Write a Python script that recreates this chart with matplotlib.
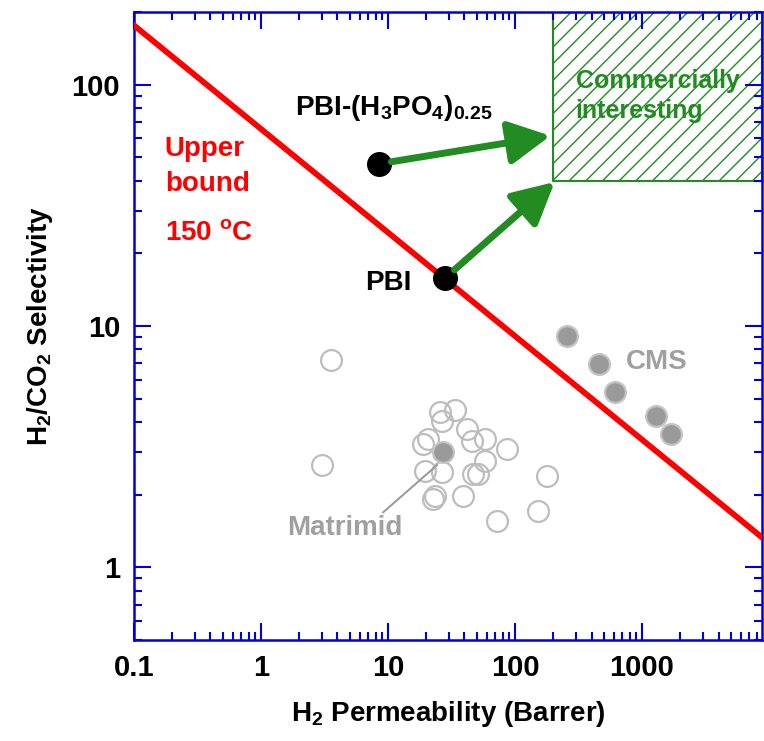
import numpy as np
import matplotlib
matplotlib.use('Agg')
from matplotlib import pyplot as plt
from matplotlib.ticker import LogLocator, FixedLocator, FixedFormatter, NullFormatter

plt.rcParams['font.family'] = ['Liberation Sans', 'DejaVu Sans']
plt.rcParams['font.weight'] = 'bold'
plt.rcParams['mathtext.fontset'] = 'custom'
plt.rcParams['mathtext.rm'] = 'Liberation Sans:bold'
plt.rcParams['mathtext.it'] = 'Liberation Sans:bold'
plt.rcParams['mathtext.bf'] = 'Liberation Sans:bold'
plt.rcParams['mathtext.default'] = 'rm'
plt.rcParams['hatch.linewidth'] = 1.0

# upper bound at 150 C (end points)
upper_x = [0.1, 8800]
upper_y = [176, 1.33]

# Matrimid literature points (open)
matrimid_x = [3.56, 3.02, 25.6, 33.7, 26.6, 41.9, 45.8, 58, 18.9, 20.7, 86.5, 58,
              19.6, 26.6, 46.7, 51, 23.4, 22.6, 39, 72, 179, 152]
matrimid_y = [7.22, 2.65, 4.40, 4.48, 4.03, 3.74, 3.33, 3.40, 3.24, 3.40, 3.09, 2.75,
              2.50, 2.48, 2.43, 2.43, 1.97, 1.92, 1.97, 1.55, 2.39, 1.71]
# Matrimid reference (filled)
mat_ref_x = [27]
mat_ref_y = [3.0]

# CMS points
cms_x = [257, 458, 612, 1288, 1690]
cms_y = [9.1, 6.96, 5.32, 4.23, 3.56]

# PBI and PBI-(H3PO4)0.25
pbi_x = [28.1]
pbi_y = [15.8]
pbia_x = [8.5]
pbia_y = [47]

# commercially interesting region
box_x = [200, 8800]
box_y = [40, 200]

blue = '#0000dd'
green = '#228b22'
gray_txt = '#a0a0a0'

fig = plt.figure(figsize=(7.64, 7.41), dpi=100)
ax = fig.add_axes([0.1754, 0.1363, 0.8220, 0.8475])
ax.set_xscale('log')
ax.set_yscale('log')
ax.set_xlim(0.1, 8800)
ax.set_ylim(0.5, 200)

ax.fill_between(box_x, box_y[0], box_y[1], facecolor='none', edgecolor=green,
                hatch='//', linewidth=1.5, zorder=1)
ax.text(300, 104, 'Commercially', color=green, fontsize=18,
        fontweight='bold', va='center', ha='left', zorder=5)
ax.text(300, 78, 'interesting', color=green, fontsize=18,
        fontweight='bold', va='center', ha='left', zorder=5)

ax.plot(matrimid_x, matrimid_y, 'o', ms=15, mfc='none', mec='#bdbdbd', mew=1.6, zorder=2)
ax.plot(mat_ref_x, mat_ref_y, 'o', ms=15, mfc='#9a9a9a', mec='#c4c4c4', mew=1.6, zorder=3)
ax.plot(cms_x, cms_y, 'o', ms=15, mfc='#9a9a9a', mec='#c4c4c4', mew=1.6, zorder=3)

ax.plot(upper_x, upper_y, color='#ff0000', lw=4.2, zorder=4)

ax.plot(pbi_x + pbia_x, pbi_y + pbia_y, 'o', ms=17, color='black', zorder=6)

arrow = dict(arrowstyle='-|>,head_length=1.15,head_width=0.6', lw=5, color=green,
             mutation_scale=22, shrinkA=9, shrinkB=0)
ax.annotate('', xy=(190, 61.4), xytext=(pbia_x[0], pbia_y[0]), arrowprops=arrow, zorder=7)
ax.annotate('', xy=(205, 39.5), xytext=(pbi_x[0], pbi_y[0]), arrowprops=arrow, zorder=7)

ax.plot([9.15, 24.3], [1.69, 2.65], color='#999999', lw=1.4, zorder=3)
ax.text(4.58, 1.46, 'Matrimid', color=gray_txt, fontsize=20, ha='center', va='center')
ax.text(1310, 7.1, 'CMS', color=gray_txt, fontsize=20, ha='center', va='center')

ax.text(0.175, 54, 'Upper', color='#ff0000', fontsize=20, va='center')
ax.text(0.175, 38.8, 'bound', color='#ff0000', fontsize=20, va='center')
ax.text(0.175, 24.3, r'150 $^\mathregular{o}$C', color='#ff0000', fontsize=20, va='center')

ax.text(1.85, 80, r'PBI-(H$_3$PO$_4$)$_{0.25}$', color='black', fontsize=20, va='center')
ax.text(6.6, 15.1, 'PBI', color='black', fontsize=20, va='center')

ax.xaxis.set_major_locator(FixedLocator([0.1, 1, 10, 100, 1000]))
ax.xaxis.set_major_formatter(FixedFormatter(['0.1', '1', '10', '100', '1000']))
ax.xaxis.set_minor_locator(LogLocator(base=10, subs=np.arange(2, 10), numticks=20))
ax.xaxis.set_minor_formatter(NullFormatter())
ax.yaxis.set_major_locator(FixedLocator([1, 10, 100]))
ax.yaxis.set_major_formatter(FixedFormatter(['1', '10', '100']))
ax.yaxis.set_minor_locator(LogLocator(base=10, subs=np.arange(2, 10), numticks=20))
ax.yaxis.set_minor_formatter(NullFormatter())

ax.tick_params(which='both', direction='in', top=True, right=True, color=blue, width=1.5)
ax.tick_params(which='major', length=12, labelsize=21, pad=10)
ax.tick_params(which='minor', length=6)
for s in ax.spines.values():
    s.set_color(blue)
    s.set_linewidth(1.8)

ax.set_xlabel(r'H$_2$ Permeability (Barrer)', fontsize=20, fontweight='bold', labelpad=12)
ax.set_ylabel(r'H$_2$/CO$_2$ Selectivity', fontsize=20, fontweight='bold', labelpad=12)

fig.savefig('out.png', dpi=100)
